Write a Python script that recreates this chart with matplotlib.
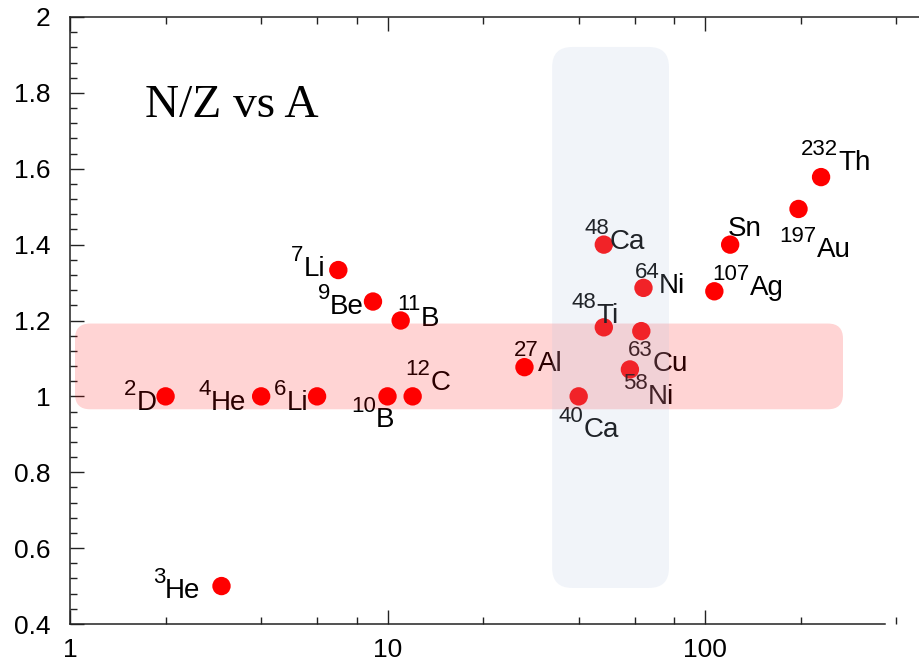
import matplotlib
matplotlib.use("Agg")
import matplotlib.pyplot as plt
from matplotlib.patches import FancyBboxPatch
from matplotlib.ticker import LogLocator, FixedFormatter, FixedLocator, MultipleLocator, NullFormatter

plt.rcParams['font.family'] = ['Liberation Sans', 'DejaVu Sans']

# ---- data ----
mass_numbers = [2, 3, 4, 6, 7, 9, 10, 11, 12, 27, 40, 48, 48, 58, 63, 64, 107, 120, 197, 232]
nz_ratio = [1.0, 0.5, 1.0, 1.0, 1.333, 1.25, 1.0, 1.2, 1.0, 1.077, 1.0, 1.4, 1.182,
            1.071, 1.172, 1.286, 1.277, 1.4, 1.494, 1.578]
label_mass = ["2", "3", "4", "6", "7", "9", "10", "11", "12", "27", "40", "48", "48",
              "58", "63", "64", "107", "", "197", "232"]
label_symbol = ["D", "He", "He", "Li", "Li", "Be", "B", "B", "C", "Al", "Ca", "Ca", "Ti",
                "Ni", "Cu", "Ni", "Ag", "Sn", "Au", "Th"]
# label placement (horizontal alignment, offset in pixels)
label_style = [("right", -9, -14), ("right", -21, -12), ("right", -15, -14), ("right", -9, -14),
               ("right", -13, -6), ("right", -9, -12), ("right", 7, -31), ("left", -3, -5),
               ("left", -7, 6), ("left", -11, -4), ("left", -20, -41), ("left", -19, -4),
               ("left", -32, 4), ("left", -7, -35), ("left", -13, -40), ("left", -9, -5),
               ("left", -2, -4), ("left", -2, 9), ("left", -19, -48), ("left", -20, 7)]

# highlight bands (data ranges)
pink_band_x = (1.037, 272)
pink_band_y = (0.966, 1.192)
blue_band_x = (33, 77)
blue_band_y = (0.495, 1.921)

x_ticks = [1, 10, 100]
x_ticklabels = ["1", "10", "100"]
y_ticks = [0.4, 0.6, 0.8, 1.0, 1.2, 1.4, 1.6, 1.8, 2.0]
y_ticklabels = ["0.4", "0.6", "0.8", "1", "1.2", "1.4", "1.6", "1.8", "2"]

W, H = 919, 668
fig = plt.figure(figsize=(W / 100, H / 100), dpi=100)
ax_l, ax_r, ax_t, ax_b = 70, 919, 17, 624
ax = fig.add_axes([ax_l / W, 1 - ax_b / H, (ax_r - ax_l) / W, (ax_b - ax_t) / H])

ax.set_xscale('log')
ax.set_xlim(1, 472)
ax.set_ylim(0.4, 2.0)

ax.scatter(mass_numbers, nz_ratio, s=175, color='#ff0000', edgecolors='none', zorder=3)

renderer = fig.canvas.get_renderer()
MAIN_FS, SUP_FS, SUP_RAISE = 20, 16, 15
for x, y, sup, sym, (ha, dx, dy) in zip(mass_numbers, nz_ratio, label_mass, label_symbol, label_style):
    if ha == 'left':
        w_sup = 0
        if sup:
            t_sup = ax.annotate(sup, (x, y), xytext=(dx, dy + SUP_RAISE), textcoords='offset pixels',
                                ha='left', va='baseline', fontsize=SUP_FS, color='black', zorder=3)
            w_sup = t_sup.get_window_extent(renderer).width
        ax.annotate(sym, (x, y), xytext=(dx + w_sup, dy), textcoords='offset pixels',
                    ha='left', va='baseline', fontsize=MAIN_FS, color='black', zorder=3)
    else:
        t_main = ax.annotate(sym, (x, y), xytext=(dx, dy), textcoords='offset pixels',
                             ha='right', va='baseline', fontsize=MAIN_FS, color='black', zorder=3)
        w_main = t_main.get_window_extent(renderer).width
        if sup:
            ax.annotate(sup, (x, y), xytext=(dx - w_main, dy + SUP_RAISE), textcoords='offset pixels',
                        ha='right', va='baseline', fontsize=SUP_FS, color='black', zorder=3)

# bands drawn as translucent overlays
to_axes = ax.transData + ax.transAxes.inverted()
aw, ah = ax_r - ax_l, ax_b - ax_t
def band(xr, yr, color, alpha, radius_px):
    (x0, y0) = to_axes.transform((xr[0], yr[0]))
    (x1, y1) = to_axes.transform((xr[1], yr[1]))
    p = FancyBboxPatch((x0, y0), x1 - x0, y1 - y0,
                       boxstyle=f"round,pad=0,rounding_size={radius_px / aw}",
                       mutation_aspect=aw / ah, transform=ax.transAxes,
                       facecolor=color, edgecolor='none', alpha=alpha, zorder=4)
    ax.add_patch(p)

band(pink_band_x, pink_band_y, '#ff0000', 0.17, 15)
band(blue_band_x, blue_band_y, (179 / 255, 196 / 255, 226 / 255), 0.18, 20)

# title
ax.text((145 - ax_l) / aw, (ax_b - 117) / ah, "N/Z vs A", transform=ax.transAxes,
        family=['Liberation Serif', 'DejaVu Serif'], fontsize=34, va='baseline', ha='left')

# axes styling
ax.spines['right'].set_visible(False)
for s in ['left', 'top', 'bottom']:
    ax.spines[s].set_linewidth(1.1)
    ax.spines[s].set_color('#222222')
ax.spines['bottom'].set_bounds(1, 369)

ax.xaxis.set_major_locator(FixedLocator(x_ticks))
ax.xaxis.set_major_formatter(FixedFormatter(x_ticklabels))
ax.xaxis.set_minor_locator(LogLocator(base=10, subs=(2, 4, 6, 8), numticks=20))
ax.xaxis.set_minor_formatter(NullFormatter())
ax.yaxis.set_major_locator(FixedLocator(y_ticks))
ax.yaxis.set_major_formatter(FixedFormatter(y_ticklabels))
ax.yaxis.set_minor_locator(MultipleLocator(0.04))

ax.tick_params(axis='both', which='both', direction='in', color='#222222', width=1.0,
               labelsize=19, labelcolor='black')
ax.tick_params(axis='x', which='both', top=True, bottom=True)
ax.tick_params(axis='y', which='both', left=True, right=False)
ax.tick_params(which='major', length=10)
ax.tick_params(which='minor', length=5)
ax.tick_params(axis='y', which='major', pad=14)
ax.tick_params(axis='x', which='major', pad=10)

fig.savefig("out.png", dpi=100)
